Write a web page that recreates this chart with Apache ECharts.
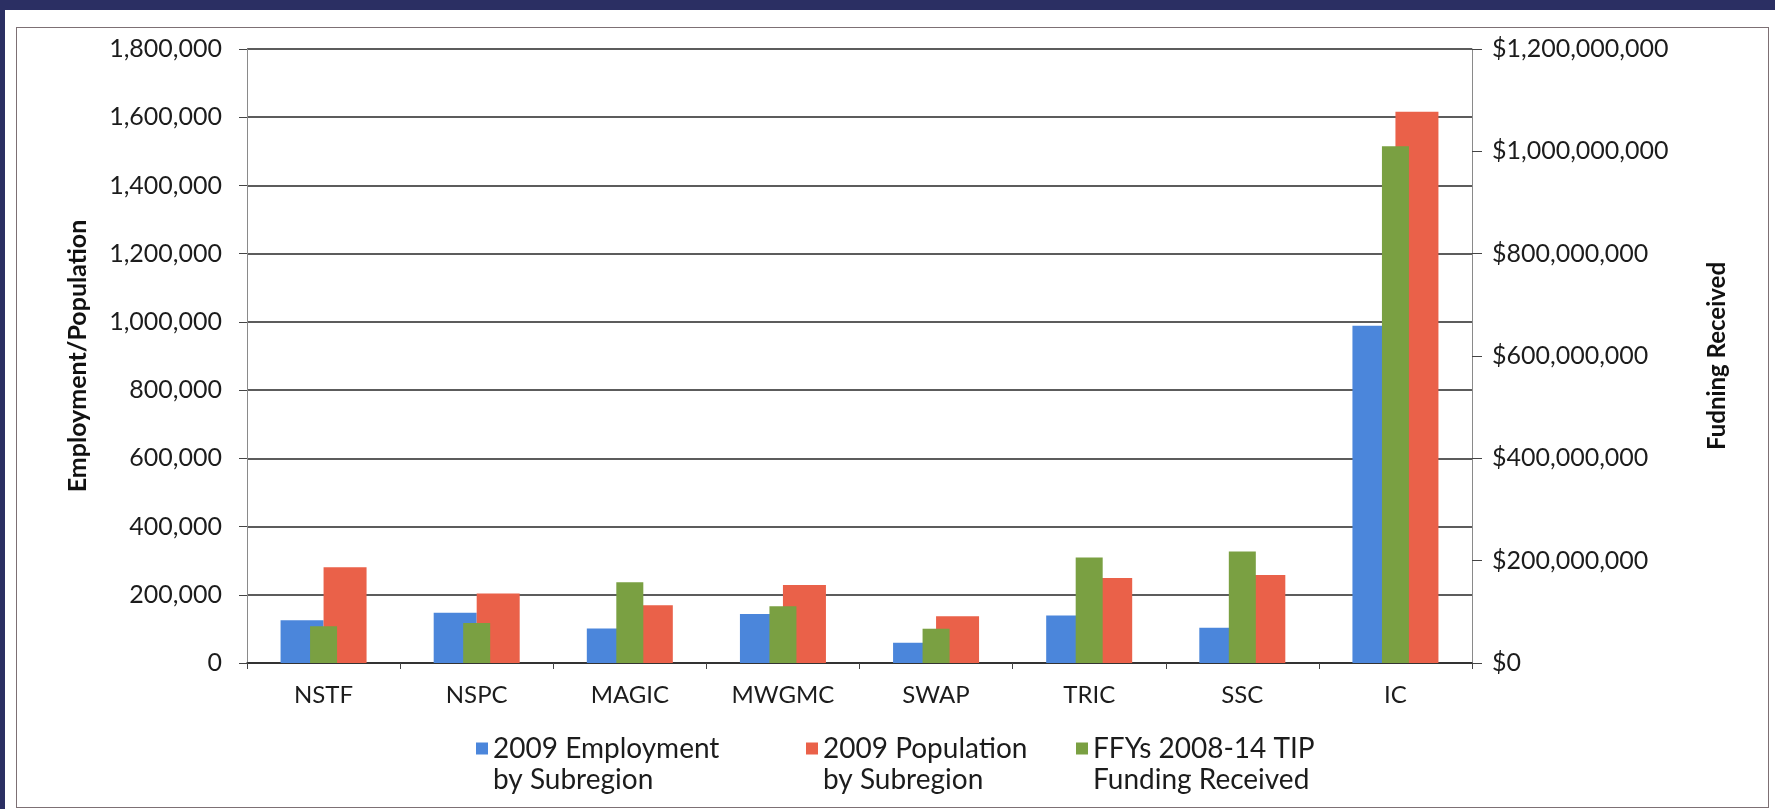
<!DOCTYPE html>
<html><head><meta charset="utf-8">
<script src="https://cdn.jsdelivr.net/npm/echarts@6/dist/echarts.min.js"></script>
<style>
html,body{margin:0;padding:0;background:#2b2f63;width:1775px;height:809px;overflow:hidden}
#panel{position:absolute;left:5px;top:10px;right:0;bottom:0;background:#fff}
#frame{position:absolute;left:16px;top:27px;width:1753px;height:781px;border:1px solid #7d7074;box-sizing:border-box}
#chart{position:absolute;left:0;top:0;width:1775px;height:809px}
</style></head><body>
<div id="panel"></div><div id="frame"></div><div id="chart"></div>
<script>
const categories = ['NSTF','NSPC','MAGIC','MWGMC','SWAP','TRIC','SSC','IC'];
const employment = [125000,147000,101000,144000,59000,139000,103000,989000];
const population = [281000,204000,169000,229000,137000,249000,258000,1616000];
const funding = [72000000,78000000,158000000,111000000,67000000,206000000,218000000,1010000000];
const seriesNames = ['2009 Employment\nby Subregion','2009 Population\nby Subregion','FFYs 2008-14 TIP\nFunding Received'];
const leftTitle = 'Employment/Population';
const rightTitle = 'Fudning Received';

const FONT = 'Lato';
const TXT = '#1c1c1c';
const colors = ['#4b86db','#ea6149','#7aa042'];

const chart = echarts.init(document.getElementById('chart'), null, {renderer:'canvas'});
const legendBase = {
  orient:'horizontal', selectedMode:false, itemWidth:12, itemHeight:12, icon:'rect',
  formatter: n => ' \n' + n,
  textStyle:{fontFamily:FONT, fontSize:28, color:TXT, lineHeight:31}
};
chart.setOption({
  animation:false,
  textStyle:{fontFamily:FONT},
  grid:{left:247, right:303, top:49, bottom:146, containLabel:false, outerBoundsMode:'none'},
  legend:[
    Object.assign({}, legendBase, {data:[seriesNames[0]], left:471, top:697}),
    Object.assign({}, legendBase, {data:[seriesNames[1]], left:801, top:697}),
    Object.assign({}, legendBase, {data:[seriesNames[2]], left:1071, top:697})
  ],
  xAxis:[
    {type:'category', data:categories, gridIndex:0,
     axisLine:{show:true, lineStyle:{color:'#262626', width:1.5}},
     axisTick:{show:true, length:6, lineStyle:{color:'#444'}},
     axisLabel:{margin:20, fontSize:24, color:TXT, fontFamily:FONT, interval:0},
     splitLine:{show:false}},
    {type:'category', data:categories, gridIndex:0, show:false}
  ],
  yAxis:[
    {type:'value', min:0, max:1800000, interval:200000, position:'left',
     name:leftTitle, nameLocation:'middle', nameRotate:90, nameGap:157,
     nameTextStyle:{fontFamily:FONT, fontSize:25, fontWeight:'bold', color:'#111'},
     axisLine:{show:true, lineStyle:{color:'#8a8a8a', width:1}},
     axisTick:{show:true, length:8, lineStyle:{color:'#444'}},
     axisLabel:{margin:25, fontSize:25, color:TXT, fontFamily:FONT,
       formatter:v=>v.toLocaleString('en-US')},
     splitLine:{show:true, lineStyle:{color:'#262626', width:1.5}}},
    {type:'value', min:0, max:1200000000, interval:200000000, position:'right',
     name:rightTitle, nameLocation:'middle', nameRotate:90, nameGap:233,
     nameTextStyle:{fontFamily:FONT, fontSize:24, fontWeight:'bold', color:'#111'},
     axisLine:{show:true, lineStyle:{color:'#8a8a8a', width:1}},
     axisTick:{show:true, length:10, lineStyle:{color:'#444'}},
     axisLabel:{margin:20, fontSize:25, color:TXT, fontFamily:FONT,
       formatter:v=>'$'+v.toLocaleString('en-US')},
     splitLine:{show:false}}
  ],
  series:[
    {name:seriesNames[0], type:'bar', xAxisIndex:0, yAxisIndex:0, data:employment,
     barWidth:43, barGap:'0%', itemStyle:{color:colors[0]}},
    {name:seriesNames[1], type:'bar', xAxisIndex:0, yAxisIndex:0, data:population,
     barWidth:43, barGap:'0%', itemStyle:{color:colors[1]}},
    {name:seriesNames[2], type:'bar', xAxisIndex:1, yAxisIndex:1, data:funding,
     barWidth:27, itemStyle:{color:colors[2]}}
  ]
});
</script>
</body></html>
